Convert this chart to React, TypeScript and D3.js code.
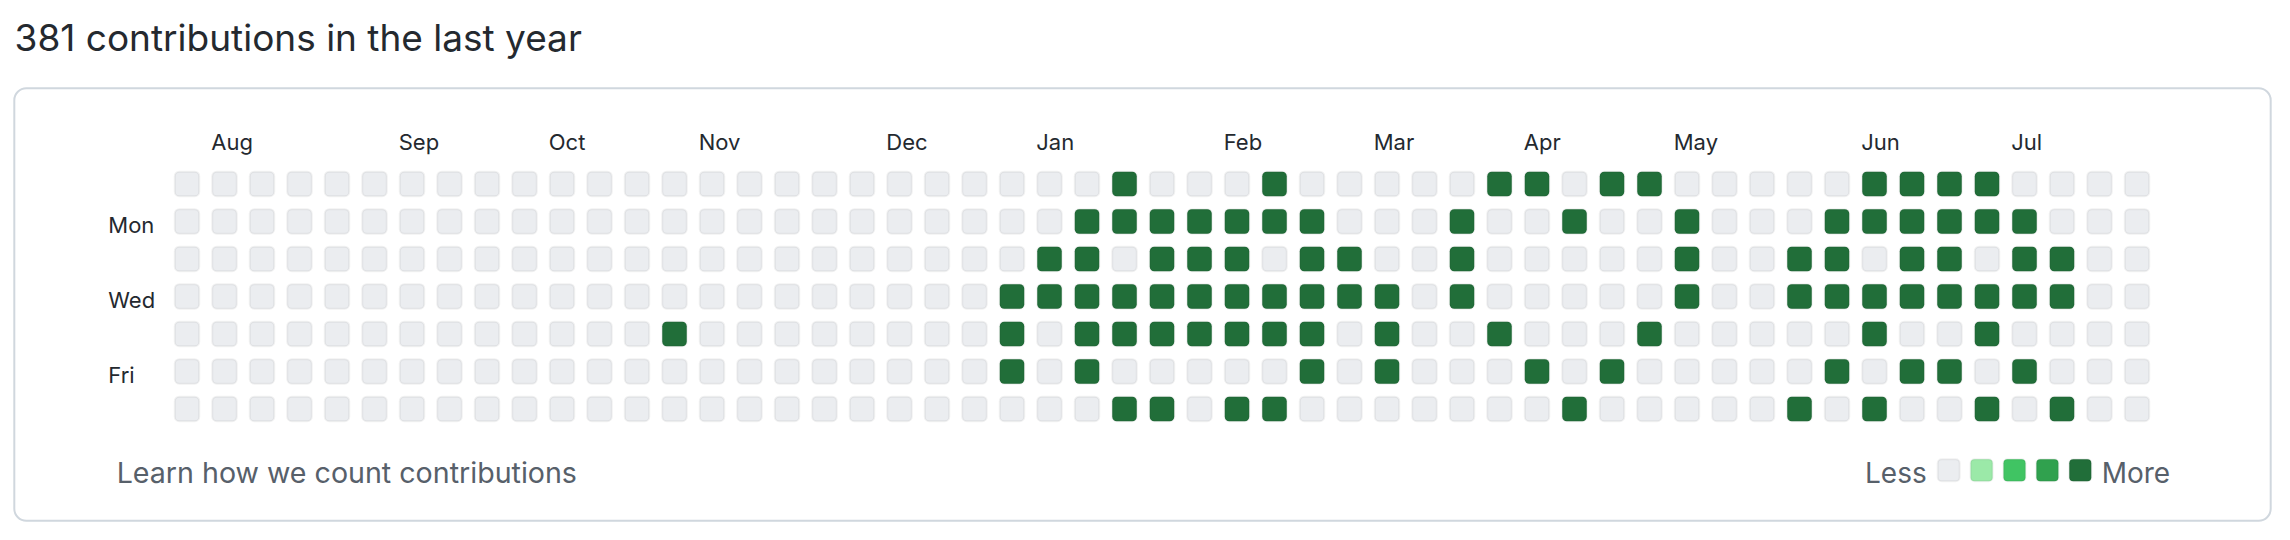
import React, { useEffect, useRef } from 'react';
import * as d3 from 'd3';

// contribution grid: 53 weeks x 7 days (Sun..Sat)
const weekCount = 53;
const dayLabels = ['', 'Mon', '', 'Wed', '', 'Fri', ''];
const monthNames = ['Aug', 'Sep', 'Oct', 'Nov', 'Dec', 'Jan', 'Feb', 'Mar', 'Apr', 'May', 'Jun', 'Jul'];
const monthStartWeek = [1, 6, 10, 14, 19, 23, 28, 32, 36, 40, 45, 49];

// weeks with contributions, one list per weekday (all at the top level)
const sunWeeks = [25, 29, 35, 36, 38, 39, 45, 46, 47, 48];
const monWeeks = [24, 25, 26, 27, 28, 29, 30, 34, 37, 40, 44, 45, 46, 47, 48, 49];
const tueWeeks = [23, 24, 26, 27, 28, 30, 31, 34, 40, 43, 44, 46, 47, 49, 50];
const wedWeeks = [22, 23, 24, 25, 26, 27, 28, 29, 30, 31, 32, 34, 40, 43, 44, 45, 46, 47, 48, 49, 50];
const thuWeeks = [13, 22, 24, 25, 26, 27, 28, 29, 30, 32, 35, 39, 45, 48];
const friWeeks = [22, 24, 30, 32, 36, 38, 44, 46, 47, 49];
const satWeeks = [25, 26, 28, 29, 37, 43, 45, 48, 50];
const activeLevel = 4;

const levelColors = ['#ebedf0', '#9be9a8', '#40c463', '#30a14e', '#216e39'];
const totalContributions = 381;

export default function App() {
  const ref = useRef<SVGSVGElement>(null);

  useEffect(() => {
    const svg = d3.select(ref.current);
    svg.selectAll('*').remove();

    const font = 'Inter, "Noto Sans", sans-serif';
    const dayWeeks = [sunWeeks, monWeeks, tueWeeks, wedWeeks, thuWeeks, friWeeks, satWeeks];

    const cells: { week: number; day: number; level: number }[] = [];
    dayWeeks.forEach((weeks, day) => {
      d3.range(weekCount).forEach(week => {
        cells.push({ week, day, level: weeks.includes(week) ? activeLevel : 0 });
      });
    });

    const cellSize = 26.5;
    const pitch = 37.5;
    const x = d3.scaleBand<number>()
      .domain(d3.range(weekCount))
      .range([173.75, 173.75 + (weekCount - 1) * pitch + cellSize])
      .paddingInner(1 - cellSize / pitch);
    const y = d3.scaleBand<number>()
      .domain(d3.range(7))
      .range([170.7, 170.7 + 6 * pitch + cellSize])
      .paddingInner(1 - cellSize / pitch);
    const color = d3.scaleOrdinal<number, string>().domain(d3.range(5)).range(levelColors);

    // title
    svg.append('text')
      .attr('x', 14.6)
      .attr('y', 51)
      .attr('font-family', font)
      .attr('font-size', 37)
      .attr('fill', '#24292f')
      .text(`${totalContributions} contributions in the last year`);

    // card border
    svg.append('rect')
      .attr('x', 14.3)
      .attr('y', 88.3)
      .attr('width', 2256.4)
      .attr('height', 432.4)
      .attr('rx', 12)
      .attr('fill', 'white')
      .attr('stroke', '#d0d7de')
      .attr('stroke-width', 2);

    // month labels
    svg.append('g')
      .selectAll('text')
      .data(monthNames)
      .enter()
      .append('text')
      .attr('x', (d, i) => x(monthStartWeek[i]) as number)
      .attr('y', 150)
      .attr('font-family', font)
      .attr('font-size', 22)
      .attr('fill', '#24292f')
      .text(d => d);

    // weekday labels
    svg.append('g')
      .selectAll('text')
      .data(dayLabels)
      .enter()
      .append('text')
      .attr('x', 108.3)
      .attr('y', (d, i) => (y(i) as number) + y.bandwidth() / 2 + 11.9)
      .attr('font-family', font)
      .attr('font-size', 22)
      .attr('fill', '#24292f')
      .text(d => d);

    // cells
    svg.append('g')
      .selectAll('rect')
      .data(cells)
      .enter()
      .append('rect')
      .attr('x', d => (x(d.week) as number) + 1)
      .attr('y', d => (y(d.day) as number) + 1)
      .attr('width', x.bandwidth() - 2)
      .attr('height', y.bandwidth() - 2)
      .attr('rx', 4.5)
      .attr('fill', d => color(d.level))
      .attr('stroke', 'rgba(27,31,35,0.06)')
      .attr('stroke-width', 2);

    // footer link
    svg.append('text')
      .attr('x', 116.7)
      .attr('y', 483.3)
      .attr('font-family', font)
      .attr('font-size', 28.6)
      .attr('fill', '#57606a')
      .text('Learn how we count contributions');

    // legend
    const legendX = d3.scaleLinear().domain([0, 1]).range([1936.7, 1969.6]);
    const legend = svg.append('g');
    legend.append('text')
      .attr('x', 1926.7)
      .attr('y', 482.7)
      .attr('text-anchor', 'end')
      .attr('font-family', font)
      .attr('font-size', 28)
      .attr('fill', '#57606a')
      .text('Less');
    legend.selectAll('rect')
      .data(levelColors)
      .enter()
      .append('rect')
      .attr('x', (d, i) => legendX(i) + 1)
      .attr('y', 459.3)
      .attr('width', 22)
      .attr('height', 22)
      .attr('rx', 4)
      .attr('fill', d => d)
      .attr('stroke', 'rgba(27,31,35,0.06)')
      .attr('stroke-width', 2);
    legend.append('text')
      .attr('x', 2101.7)
      .attr('y', 482.7)
      .attr('font-family', font)
      .attr('font-size', 28)
      .attr('fill', '#57606a')
      .text('More');
  }, []);

  return (
    <svg
      ref={ref}
      width={2290}
      height={540}
      style={{ position: 'absolute', left: 0, top: 0, background: 'white' }}
    />
  );
}
